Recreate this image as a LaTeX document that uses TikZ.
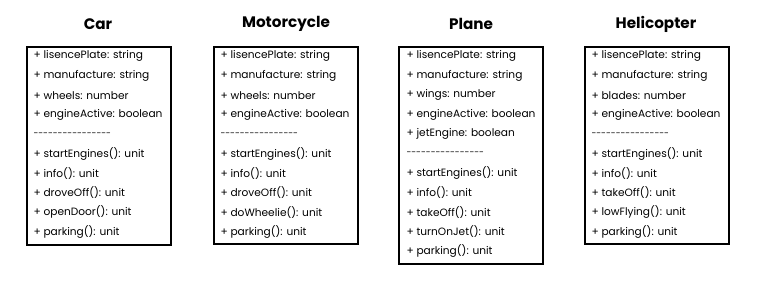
\documentclass[tikz,border=0pt]{standalone}
\usepackage{fontspec}
\setmainfont{Poppins}[Ligatures=TeXOff]
\usepackage{tikz}
\usetikzlibrary{calc}

\begin{document}
\begin{tikzpicture}[
  x=1pt, y=-1pt, font=\fontsize{10.6}{12}\selectfont,
  cls/.style={draw=black, line width=1.4pt, minimum width=144pt, inner sep=0pt},
  title/.style={font=\fontsize{15.2}{17}\selectfont\bfseries, anchor=center},
  row/.style={anchor=west, inner sep=0pt}
]
\useasboundingbox (0,0) rectangle (768,306);

% ---- class boxes
\node[cls, minimum height=198pt] (car)   at (99,146)  {};
\node[cls, minimum height=197pt] (moto)  at (286,145.5) {};
\node[cls, minimum height=217pt] (plane) at (471,155.5) {};
\node[cls, minimum height=197pt] (heli)  at (657,145.5) {};

% ---- titles
\node[title] (carT)   at (98,24)  {Car};
\node[title] (motoT)  at (286,24) {Motorcycle};
\node[title] (planeT) at (471,24) {Plane};
\node[title] (heliT)  at (656,24) {Helicopter};

% ---- members
\foreach \t [count=\i from 0] in {+ lisencePlate: string, + manufacture: string,
    + wheels: number, + engineActive: boolean, {\fontsize{8.8}{10}\selectfont ----------------},
    + startEngines(): unit, + info(): unit, + droveOff(): unit,
    + openDoor(): unit, + parking(): unit}
  \node[row] (car-\i) at ($(car.north west)+(7,10+19.5*\i)$) {\t};

\foreach \t [count=\i from 0] in {+ lisencePlate: string, + manufacture: string,
    + wheels: number, + engineActive: boolean, {\fontsize{8.8}{10}\selectfont ----------------},
    + startEngines(): unit, + info(): unit, + droveOff(): unit,
    + doWheelie(): unit, + parking(): unit}
  \node[row] (moto-\i) at ($(moto.north west)+(7,10+19.5*\i)$) {\t};

\foreach \t [count=\i from 0] in {+ lisencePlate: string, + manufacture: string,
    + wings: number, + engineActive: boolean, + jetEngine: boolean,
    {\fontsize{8.8}{10}\selectfont ----------------}, + startEngines(): unit, + info(): unit,
    + takeOff(): unit, + turnOnJet(): unit, + parking(): unit}
  \node[row] (plane-\i) at ($(plane.north west)+(8,10+19.5*\i)$) {\t};

\foreach \t [count=\i from 0] in {+ lisencePlate: string, + manufacture: string,
    + blades: number, + engineActive: boolean, {\fontsize{8.8}{10}\selectfont ----------------},
    + startEngines(): unit, + info(): unit, + takeOff(): unit,
    + lowFlying(): unit, + parking(): unit}
  \node[row] (heli-\i) at ($(heli.north west)+(7,10+19.5*\i)$) {\t};
\end{tikzpicture}
\end{document}
